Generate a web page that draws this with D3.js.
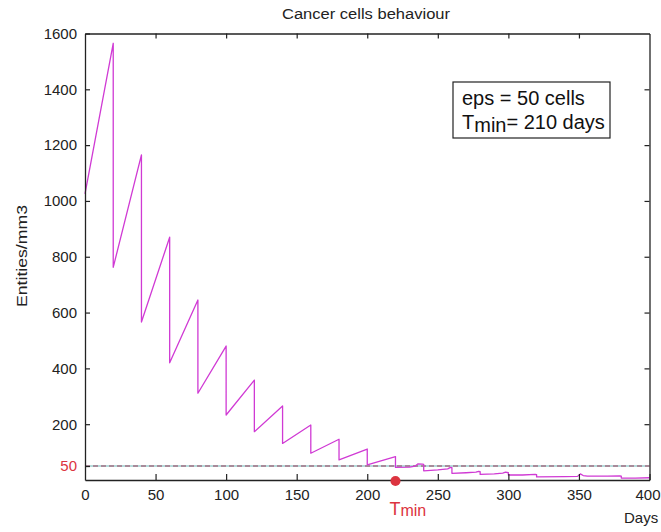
<!DOCTYPE html>
<html>
<head>
<meta charset="utf-8">
<script src="https://cdn.jsdelivr.net/npm/d3@7/dist/d3.min.js"></script>
<style>
  html, body { margin: 0; padding: 0; background: #fff; }
  svg { display: block; }
  text { font-family: Arial, "Liberation Sans", sans-serif; }
</style>
</head>
<body>
<svg id="chart" width="661" height="532"></svg>
<script>
// Simulated cancer-cell count (entities per mm3) over treatment days:
// growth between doses, sharp drop at every dose (every 20 days).
const days = [
  0, 20, 20, 40, 40, 60, 60, 80, 80, 100, 100, 120, 120, 140, 140,
  160, 160, 180, 180, 200, 200, 220, 220,
  230, 234, 236, 239, 240, 240,
  250, 257, 259, 260, 260,
  270, 277, 279, 280, 280,
  290, 296, 298, 300, 300,
  310, 319, 320, 320,
  340, 349, 351, 353, 356, 370, 379, 380, 380,
  390, 400
];
const cells = [
  1025, 1565, 762, 1165, 566, 870, 420, 645, 311, 480, 233, 358, 173, 265, 131,
  197, 96, 146, 72, 111, 54, 84, 45,
  46, 50, 58, 57, 56, 33,
  36, 40, 45, 44, 24,
  26, 28, 31, 30, 20,
  22, 25, 28, 26, 18,
  18, 20, 19, 11,
  12, 13, 22, 16, 14, 14, 15, 14, 7,
  7, 8
];

// Threshold (eps) and the day the count first stays under it.
const epsValue = 50;
const tminDay = 220;
const legendLines = ["eps = 50 cells", "= 210 days"];

const xTicks = [0, 50, 100, 150, 200, 250, 300, 350, 400];
const yTicks = [50, 200, 400, 600, 800, 1000, 1200, 1400, 1600];

const svg = d3.select("#chart");
const plotLeft = 85, plotRight = 649.5, plotTop = 33.5, plotBottom = 480;

const x = d3.scaleLinear().domain([0, 400]).range([plotLeft, plotRight]);
const y = d3.scaleLinear().domain([0, 1600]).range([plotBottom, plotTop]);

const axisColor = "#222";
const red = "#dc3440";

// Title
svg.append("text")
  .attr("x", 366).attr("y", 19)
  .attr("text-anchor", "middle")
  .attr("font-size", 14).attr("fill", "#222")
  .attr("textLength", 168).attr("lengthAdjust", "spacingAndGlyphs")
  .text("Cancer cells behaviour");

// Threshold line (two interleaved dash colours)
svg.append("line")
  .attr("x1", x(0)).attr("x2", x(400))
  .attr("y1", y(epsValue)).attr("y2", y(epsValue))
  .attr("stroke", "#6cb8b8").attr("stroke-width", 1.1);
svg.append("line")
  .attr("x1", x(0)).attr("x2", x(400))
  .attr("y1", y(epsValue)).attr("y2", y(epsValue))
  .attr("stroke", "#9a3c5a").attr("stroke-width", 1.1)
  .attr("stroke-dasharray", "5,3");

// Cell count curve
const line = d3.line().x((d, i) => x(days[i])).y((d, i) => y(cells[i]));
svg.append("path")
  .datum(cells)
  .attr("d", line)
  .attr("fill", "none")
  .attr("stroke", "#d03ad4")
  .attr("stroke-width", 1.3)
  .attr("stroke-linejoin", "round");

// Axes (ticks pointing inward, boxed frame)
const fmt = d3.format("d");
const gx = svg.append("g").attr("transform", `translate(0,${plotBottom})`)
  .call(d3.axisBottom(x).tickValues(xTicks).tickFormat(fmt).tickSize(-6).tickPadding(9).tickSizeOuter(0));
const gy = svg.append("g").attr("transform", `translate(${plotLeft},0)`)
  .call(d3.axisLeft(y).tickValues(yTicks).tickFormat(fmt).tickSize(-5).tickPadding(8).tickSizeOuter(0));
const gt = svg.append("g").attr("transform", `translate(0,${plotTop})`)
  .call(d3.axisTop(x).tickValues(xTicks.slice(1, -1)).tickSize(-5).tickFormat("").tickSizeOuter(0));
const gr = svg.append("g").attr("transform", `translate(${plotRight},0)`)
  .call(d3.axisRight(y).tickValues(yTicks.slice(1, -1)).tickSize(-5).tickFormat("").tickSizeOuter(0));

[gx, gy, gt, gr].forEach(g => {
  g.select(".domain").attr("stroke", axisColor).attr("stroke-width", 1.3);
  g.selectAll(".tick line").attr("stroke", axisColor).attr("stroke-width", 1.2);
  g.selectAll(".tick text").attr("font-size", 15).attr("fill", "#222")
    .attr("font-family", "Arial, 'Liberation Sans', sans-serif");
});
gy.selectAll(".tick").filter(d => d === epsValue)
  .select("text").attr("fill", red);
gx.selectAll(".tick").filter(d => d === 0).select("line").remove();
// keep the last day label inside the window
gx.selectAll(".tick").filter(d => d === 400).select("text").attr("dx", -2);

// Axis labels
svg.append("text")
  .attr("transform", "translate(27,256) rotate(-90)")
  .attr("text-anchor", "middle")
  .attr("font-size", 14).attr("fill", "#222")
  .attr("textLength", 102).attr("lengthAdjust", "spacingAndGlyphs")
  .text("Entities/mm3");
svg.append("text")
  .attr("x", 624).attr("y", 523)
  .attr("font-size", 15).attr("fill", "#222")
  .text("Days");

// Tmin marker on the day axis
svg.append("circle")
  .attr("cx", x(tminDay)).attr("cy", plotBottom + 1)
  .attr("r", 5).attr("fill", red);
const tminLabel = svg.append("text")
  .attr("x", x(tminDay) - 6).attr("y", 515)
  .attr("fill", red);
tminLabel.append("tspan").attr("font-size", 18).text("T");
tminLabel.append("tspan").attr("font-size", 16).attr("dy", 1).text("min");

// Legend box
svg.append("rect")
  .attr("x", 453).attr("y", 82).attr("width", 157).attr("height", 56)
  .attr("fill", "#fff").attr("stroke", "#222").attr("stroke-width", 1.2);
svg.append("text")
  .attr("x", 462).attr("y", 104.5)
  .attr("font-size", 20).attr("fill", "#111")
  .text(legendLines[0]);
const l2 = svg.append("text")
  .attr("x", 462).attr("y", 128.5)
  .attr("font-size", 20).attr("fill", "#111");
l2.append("tspan").text("T");
l2.append("tspan").attr("dy", 3).text("min");
l2.append("tspan").attr("dy", -3).text(legendLines[1]);
</script>
</body>
</html>
